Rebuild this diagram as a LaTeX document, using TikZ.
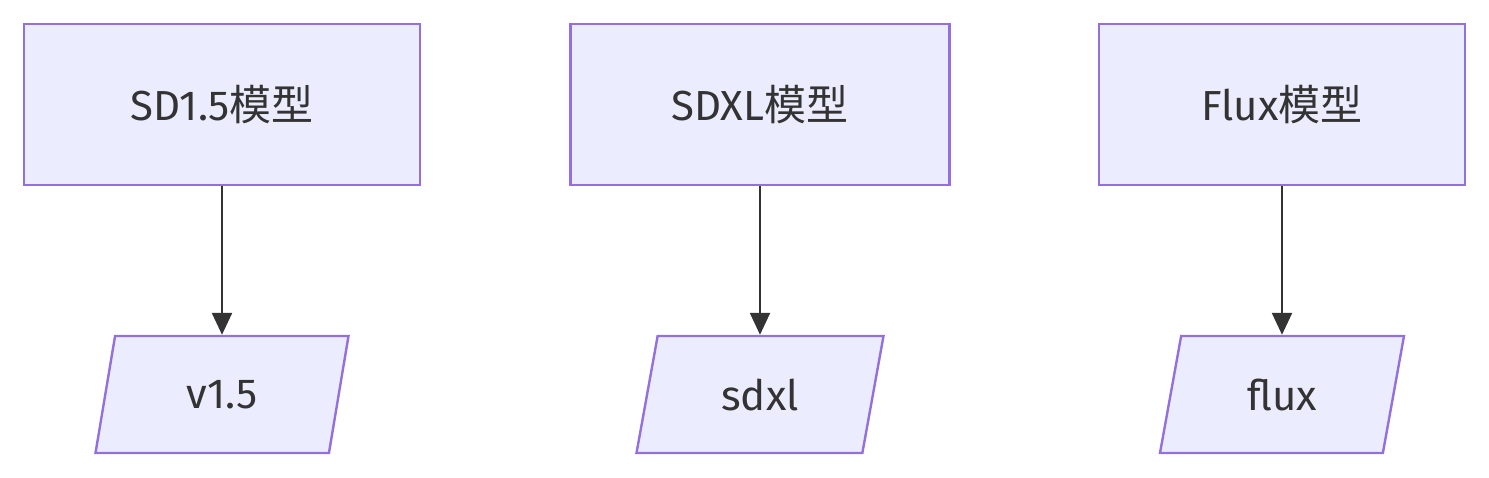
\documentclass[tikz,border=0pt]{standalone}
\usepackage{fontspec}
\setmainfont{Fira Sans}
\newfontfamily\cjk{Noto Sans CJK SC}
\usetikzlibrary{shapes.geometric,arrows.meta}
\definecolor{boxfill}{HTML}{ECECFF}
\definecolor{boxline}{HTML}{9370DB}
\definecolor{arrowline}{HTML}{333333}
\tikzset{
  modelbox/.style={draw=boxline,fill=boxfill,line width=1.2pt,minimum height=80.5pt,
    font=\fontsize{21}{25}\selectfont,text=arrowline},
  namebox/.style={trapezium,trapezium left angle=65,trapezium right angle=115,
    trapezium stretches body,draw=boxline,fill=boxfill,line width=1.2pt,minimum height=58.5pt,
    font=\fontsize{21}{25}\selectfont,text=arrowline},
  link/.style={draw=arrowline,line width=1.2pt,-{Triangle[length=11pt,width=10pt]}}
}
\begin{document}
\begin{tikzpicture}[x=0.5pt,y=-0.5pt]
\useasboundingbox (0,0) rectangle (1489,477);
\node[modelbox,minimum width=198pt] (sd15) at (222,104.5) {SD1.5\cjk 模型};
\node[modelbox,minimum width=189.5pt] (sdxl) at (760,104.5) {SDXL\cjk 模型};
\node[modelbox,minimum width=183pt] (flux) at (1282,104.5) {Flux\cjk 模型};

\node[namebox,minimum width=126.5pt] (v15) at (222,394.5) {v1.5};
\node[namebox,minimum width=123.5pt] (xl) at (760,394.5) {sdxl};
\node[namebox,minimum width=122pt] (fx) at (1282,394.5) {flux};

\draw[link] (sd15) -- (v15);
\draw[link] (sdxl) -- (xl);
\draw[link] (flux) -- (fx);
\end{tikzpicture}
\end{document}
